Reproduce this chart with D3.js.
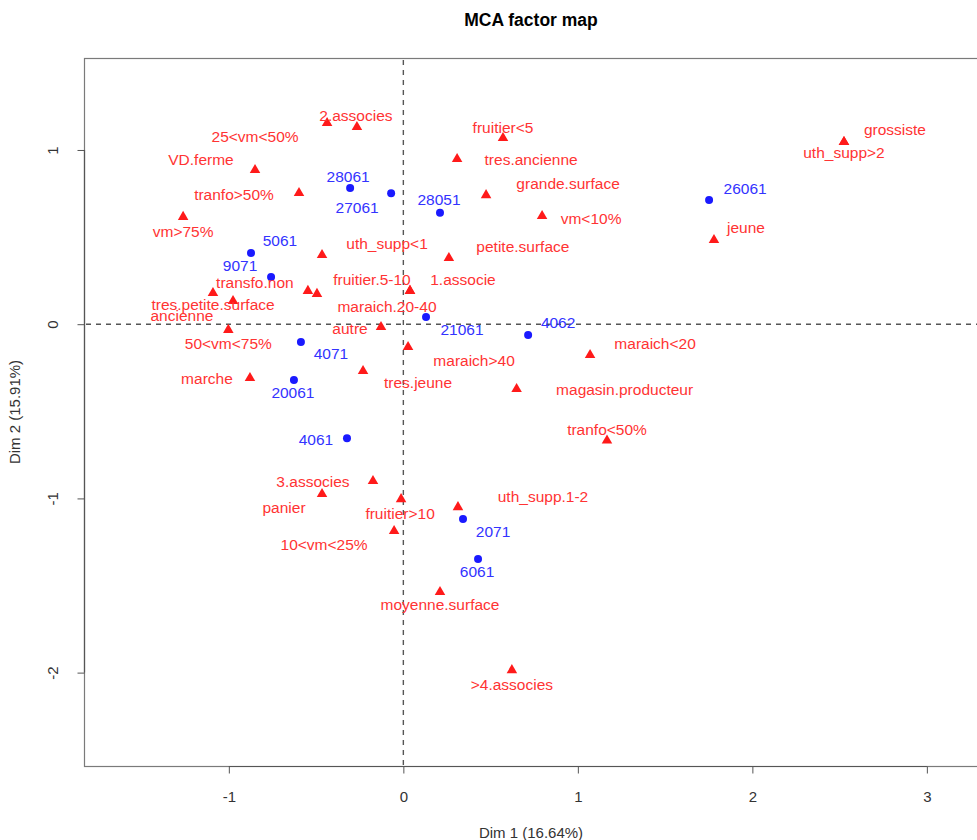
<!DOCTYPE html>
<html>
<head>
<meta charset="utf-8">
<script src="https://cdn.jsdelivr.net/npm/d3@7"></script>
<style>
  html, body { margin: 0; padding: 0; background: #fff; }
  svg { display: block; font-family: "Liberation Sans", Arial, sans-serif; }
</style>
</head>
<body>
<svg id="chart" width="977" height="840"></svg>
<script>
// Individuals (farms) on the first two MCA dimensions
const indNames = ["28061", "27061", "28051", "26061", "5061", "9071", "21061",
                  "4062", "4071", "20061", "4061", "2071", "6061"];
const indDim1 = [-0.305, -0.070, 0.210, 1.752, -0.873, -0.758, 0.130,
                 0.715, -0.587, -0.627, -0.323, 0.342, 0.428];
const indDim2 = [0.782, 0.752, 0.640, 0.713, 0.409, 0.271, 0.041,
                 -0.062, -0.102, -0.320, -0.655, -1.118, -1.348];

// Category modalities on the first two MCA dimensions
const catNames = ["2.associes", "25<vm<50%", "VD.ferme", "tranfo>50%", "vm>75%",
                  "uth_supp<1", "transfo.non", "fruitier.5-10", "tres.petite.surface",
                  "ancienne", "maraich.20-40", "1.associe", "petite.surface", "autre",
                  "50<vm<75%", "marche", "tres.jeune", "maraich>40", "maraich<20",
                  "magasin.producteur", "tranfo<50%", "fruitier<5", "tres.ancienne",
                  "grande.surface", "vm<10%", "grossiste", "uth_supp>2", "jeune",
                  "3.associes", "panier", "fruitier>10", "uth_supp.1-2", "10<vm<25%",
                  "moyenne.surface", ">4.associes"];
const catDim1 = [-0.266, -0.437, -0.850, -0.598, -1.262,
                 -0.466, -0.547, -0.495, -0.976,
                 -1.091, 0.038, 0.038, 0.261, -0.128,
                 -1.003, -0.879, -0.231, 0.027, 1.070,
                 0.649, 1.167, 0.571, 0.308,
                 0.474, 0.795, 2.525, 2.525, 1.780,
                 -0.174, -0.466, -0.013, 0.313, -0.053,
                 0.210, 0.622];
const catDim2 = [1.132, 1.155, 0.885, 0.753, 0.616,
                 0.397, 0.191, 0.174, 0.133,
                 0.179, 0.191, 0.191, 0.380, -0.016,
                 -0.033, -0.309, -0.269, -0.131, -0.177,
                 -0.372, -0.668, 1.069, 0.948,
                 0.741, 0.621, 1.046, 1.046, 0.483,
                 -0.900, -0.975, -1.004, -1.050, -1.187,
                 -1.537, -1.986];

const xTicks = [-1, 0, 1, 2, 3];
const yTicks = [-2, -1, 0, 1];
const xTitle = "Dim 1 (16.64%)";
const yTitle = "Dim 2 (15.91%)";
const chartTitle = "MCA factor map";

// Label placement (pixel offsets from each point, label centre)
const indLabelOffset = [[-2, -11], [-34, 14], [-1, -13], [36, -11], [29, -12], [-31, -11],
                        [36, 13], [30, -12], [30, 12], [-1, 13], [-31, 1], [30, 13], [-1, 13]];
const catLabelOffset = [[-1, -11], [-72, 14], [-54, -10], [-65, 2], [0, 15],
                        [65, -11], [-53, -8], [55, -14], [-20, 4],
                        [-31, 23], [-23, 16], [53, -11], [74, -11], [-31, 2],
                        [0, 14], [-43, 1], [55, 12], [66, 14], [65, -11],
                        [108, 1], [0, -11], [0, -10], [74, 1],
                        [82, -12], [49, 3], [51, -12], [0, 11], [32, -12],
                        [-60, 1], [-38, 14], [-1, 14], [85, -11], [-70, 14],
                        [0, 13], [0, 14]];

const svg = d3.select("#chart");
const plot = { left: 84, top: 58, right: 978, bottom: 766 };

const x = d3.scaleLinear().domain([-1.830, 3.293]).range([plot.left, plot.right]);
const y = d3.scaleLinear().domain([-2.536, 1.528]).range([plot.bottom, plot.top]);

const boxColor = "#7a7a7a";
const inkColor = "#333";
const labelFont = 15.5;
const plainNumber = d => String(d);

// Title
svg.append("text")
  .attr("x", (plot.left + plot.right) / 2)
  .attr("y", 20)
  .attr("dy", "0.35em")
  .attr("text-anchor", "middle")
  .attr("font-weight", "bold")
  .attr("font-size", 17.5)
  .attr("fill", "#000")
  .text(chartTitle);

// Plot frame
svg.append("rect")
  .attr("x", plot.left + 0.5)
  .attr("y", plot.top + 0.5)
  .attr("width", plot.right - plot.left)
  .attr("height", plot.bottom - plot.top)
  .attr("fill", "none")
  .attr("stroke", boxColor)
  .attr("stroke-width", 1.2);

// Axes
const xAxis = svg.append("g")
  .attr("transform", `translate(0,${plot.bottom + 0.5})`)
  .call(d3.axisBottom(x).tickValues(xTicks).tickSize(7).tickSizeOuter(0).tickPadding(18)
    .tickFormat(plainNumber));
xAxis.select(".domain").remove();
xAxis.append("line")
  .attr("x1", x(xTicks[0])).attr("x2", x(xTicks[xTicks.length - 1]))
  .attr("stroke", "#555").attr("stroke-width", 1.2);
xAxis.selectAll(".tick line").attr("stroke", "#555");
xAxis.selectAll(".tick text")
  .attr("font-family", "Liberation Sans, Arial, sans-serif")
  .attr("font-size", 15)
  .attr("fill", inkColor);

const yAxis = svg.append("g")
  .attr("transform", `translate(${plot.left + 0.5},0)`)
  .call(d3.axisLeft(y).tickValues(yTicks).tickSize(7).tickSizeOuter(0)
    .tickFormat(plainNumber));
yAxis.select(".domain").remove();
yAxis.append("line")
  .attr("y1", y(yTicks[0])).attr("y2", y(yTicks[yTicks.length - 1]))
  .attr("stroke", "#555").attr("stroke-width", 1.2);
yAxis.selectAll(".tick line").attr("stroke", "#555");
// tick labels run vertically, left of each tick
yAxis.selectAll(".tick text")
  .attr("x", 0)
  .attr("y", -32)
  .attr("dy", "0.35em")
  .attr("text-anchor", "middle")
  .attr("transform", "rotate(-90)")
  .attr("font-family", "Liberation Sans, Arial, sans-serif")
  .attr("font-size", 15)
  .attr("fill", inkColor);

// Axis titles
svg.append("text")
  .attr("x", (plot.left + plot.right) / 2)
  .attr("y", 833)
  .attr("dy", "0.35em")
  .attr("text-anchor", "middle")
  .attr("font-size", 15)
  .attr("fill", inkColor)
  .text(xTitle);

svg.append("text")
  .attr("transform", `translate(15,${(plot.top + plot.bottom) / 2}) rotate(-90)`)
  .attr("dy", "0.35em")
  .attr("text-anchor", "middle")
  .attr("font-size", 15)
  .attr("fill", inkColor)
  .text(yTitle);

// Reference lines through the origin
const refLines = svg.append("g");
refLines.append("line")
  .attr("x1", x(0)).attr("x2", x(0))
  .attr("y1", plot.top + 2).attr("y2", plot.bottom)
  .attr("stroke", "#555").attr("stroke-width", 1.4)
  .attr("stroke-dasharray", "5,5");
refLines.append("line")
  .attr("x1", plot.left + 2).attr("x2", plot.right)
  .attr("y1", y(0)).attr("y2", y(0))
  .attr("stroke", "#555").attr("stroke-width", 1.4)
  .attr("stroke-dasharray", "5,5");

const inds = indNames.map((n, i) => ({ name: n, d1: indDim1[i], d2: indDim2[i], off: indLabelOffset[i] }));
const cats = catNames.map((n, i) => ({ name: n, d1: catDim1[i], d2: catDim2[i], off: catLabelOffset[i] }));

// Individuals: blue points
svg.append("g").selectAll("circle")
  .data(inds)
  .join("circle")
  .attr("cx", d => x(d.d1))
  .attr("cy", d => y(d.d2))
  .attr("r", 4)
  .attr("fill", "#1a1aff");

// Categories: red triangles
const tri = d3.symbol().type(d3.symbolTriangle).size(48);
svg.append("g").selectAll("path")
  .data(cats)
  .join("path")
  .attr("transform", d => `translate(${x(d.d1)},${y(d.d2)})`)
  .attr("d", tri)
  .attr("fill", "#ff1a1a");

svg.append("g").selectAll("text")
  .data(inds)
  .join("text")
  .attr("x", d => x(d.d1) + d.off[0])
  .attr("y", d => y(d.d2) + d.off[1])
  .attr("dy", "0.35em")
  .attr("text-anchor", "middle")
  .attr("font-size", labelFont)
  .attr("fill", "#3333ff")
  .text(d => d.name);

svg.append("g").selectAll("text")
  .data(cats)
  .join("text")
  .attr("x", d => x(d.d1) + d.off[0])
  .attr("y", d => y(d.d2) + d.off[1])
  .attr("dy", "0.35em")
  .attr("text-anchor", "middle")
  .attr("font-size", labelFont)
  .attr("fill", "#ff3333")
  .text(d => d.name);
</script>
</body>
</html>
